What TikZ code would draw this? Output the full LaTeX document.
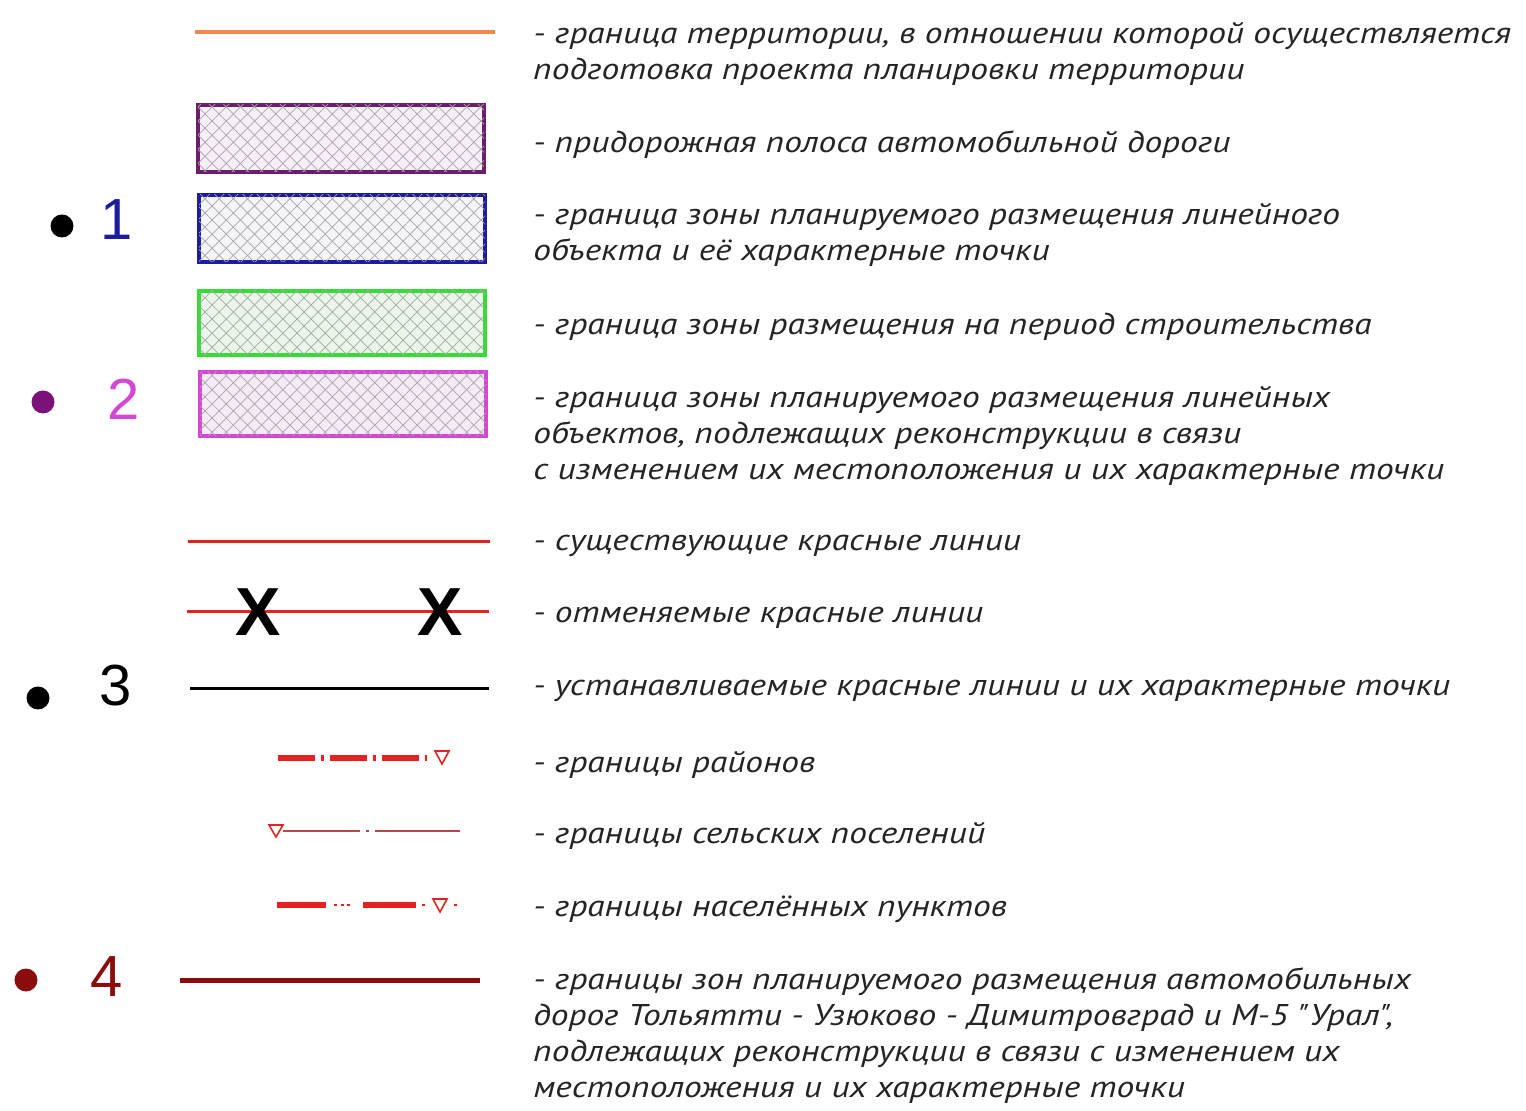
\documentclass[tikz,border=0pt]{standalone}
\usepackage{fontspec}
\setmainfont{Liberation Sans}
\newfontfamily\legendfont{PT Sans}[FakeStretch=1.18]
\usepackage{xcolor}
\usepackage{tikz}
\usetikzlibrary{patterns.meta}

\definecolor{orangeline}{HTML}{F2884C}
\definecolor{purpleedge}{HTML}{6B1E6B}
\definecolor{purplefill}{HTML}{F7EEF7}
\definecolor{blueedge}{HTML}{1C1C9C}
\definecolor{bluefill}{HTML}{F5F5F9}
\definecolor{greenedge}{HTML}{33DD33}
\definecolor{greenfill}{HTML}{E9F6E9}
\definecolor{magentaedge}{HTML}{D446D4}
\definecolor{magentafill}{HTML}{F7EAF7}
\definecolor{dotpurple}{HTML}{7A127A}
\definecolor{redline}{HTML}{E42222}
\definecolor{darkredline}{HTML}{8B0C0C}
\definecolor{textgrey}{HTML}{242424}

\tikzset{
  legtext/.style={anchor=west, align=left, inner sep=0pt, text=textgrey, yshift=-1.8pt,
    font=\legendfont\itshape\fontsize{15}{18}\selectfont},
  numlabel/.style={inner sep=0pt, font=\fontsize{29}{30}\selectfont},
  bullet/.style={circle, fill, inner sep=0pt, minimum size=11.5pt},
  hatchbox/.style={line width=2pt,
    postaction={pattern={Lines[angle=45,distance=5pt,line width=0.35pt]}, pattern color=gray!70},
    postaction={pattern={Lines[angle=-45,distance=5pt,line width=0.35pt]}, pattern color=gray!70}},
  crossmark/.style={inner sep=0pt, font=\bfseries\fontsize{34}{34}\selectfont},
  tri/.style={draw=redline, fill=white, line width=0.8pt}
}

\begin{document}
\begin{tikzpicture}[x=0.5pt,y=-0.5pt]
  \useasboundingbox (0,0) rectangle (1526,1111);

  % territory border
  \draw[orangeline, line width=2pt] (195,32) -- (495,32);
  \node[legtext] (t1) at (533,50) {- граница территории, в отношении которой осуществляется\\подготовка проекта планировки территории};

  % roadside strip
  \draw[hatchbox, draw=purpleedge, fill=purplefill] (198,105) rectangle (484,172);
  \node[legtext] (t2) at (533,141) {- придорожная полоса автомобильной дороги};

  % zone of linear object
  \node[bullet] (d1) at (62,226) {};
  \node[numlabel, text=blueedge] (n1) at (117,220) {1};
  \draw[hatchbox, draw=blueedge, fill=bluefill] (199,195) rectangle (485,262);
  \node[legtext] (t3) at (533,231) {- граница зоны планируемого размещения линейного\\объекта и её характерные точки};

  % construction period
  \draw[hatchbox, draw=greenedge, fill=greenfill] (199,291) rectangle (485,355);
  \node[legtext] (t4) at (533,323) {- граница зоны размещения на период строительства};

  % reconstruction zone
  \node[bullet, fill=dotpurple] (d2) at (43,402) {};
  \node[numlabel, text=magentaedge] (n2) at (124,399) {2};
  \draw[hatchbox, draw=magentaedge, fill=magentafill] (200,372) rectangle (486,436);
  \node[legtext] (t5) at (533,432) {- граница зоны планируемого размещения линейных\\объектов, подлежащих реконструкции в связи\\с изменением их местоположения и их характерные точки};

  % red lines
  \draw[redline, line width=1.5pt] (188,542) -- (490,542);
  \node[legtext] (t6) at (533,542) {- существующие красные линии};

  \draw[redline, line width=1.5pt] (187,612) -- (489,612);
  \node[crossmark] (x1) at (258,612) {X};
  \node[crossmark] (x2) at (440,612) {X};
  \node[legtext] (t7) at (533,614) {- отменяемые красные линии};

  \node[bullet] (d3) at (38,698) {};
  \node[numlabel] (n3) at (116,686) {3};
  \draw[black, line width=1.5pt] (190,689) -- (489,689);
  \node[legtext] (t8) at (533,687) {- устанавливаемые красные линии и их характерные точки};

  % district borders
  \draw[redline, line width=3pt, dash pattern=on 18.5pt off 3pt on 1.5pt off 3pt] (278,758) -- (427,758);
  \draw[tri] (435,751) -- (449,751) -- (442,764) -- cycle;
  \node[legtext] (t9) at (533,761) {- границы районов};

  % rural settlements
  \draw[tri] (269,825) -- (283,825) -- (276,837) -- cycle;
  \draw[red!45!gray, line width=0.6pt] (283,831) -- (360,831) (366,831) -- (369,831) (375,831) -- (460,831);
  \node[legtext] (t10) at (533,832) {- границы сельских поселений};

  % settlements
  \draw[redline, line width=3pt] (277,905) -- (326,905) (363,905) -- (416,905);
  \draw[redline, line width=1.2pt] (334,905) -- (337,905) (341,905) -- (344,905) (347,905) -- (350,905)
    (422,905) -- (425,905) (454,905) -- (457,905);
  \draw[tri] (433,899) -- (447,899) -- (440,912) -- cycle;
  \node[legtext] (t11) at (533,906) {- границы населённых пунктов};

  % roads reconstruction
  \node[bullet, fill=darkredline] (d4) at (26,980) {};
  \node[numlabel, text=darkredline] (n4) at (107,977) {4};
  \draw[darkredline, line width=2.5pt] (180,980) -- (480,980);
  \node[legtext] (t12) at (533,1032) {- границы зон планируемого размещения автомобильных\\дорог Тольятти - Узюково - Димитровград и М-5 "Урал",\\подлежащих реконструкции в связи с изменением их\\местоположения и их характерные точки};
\end{tikzpicture}
\end{document}
